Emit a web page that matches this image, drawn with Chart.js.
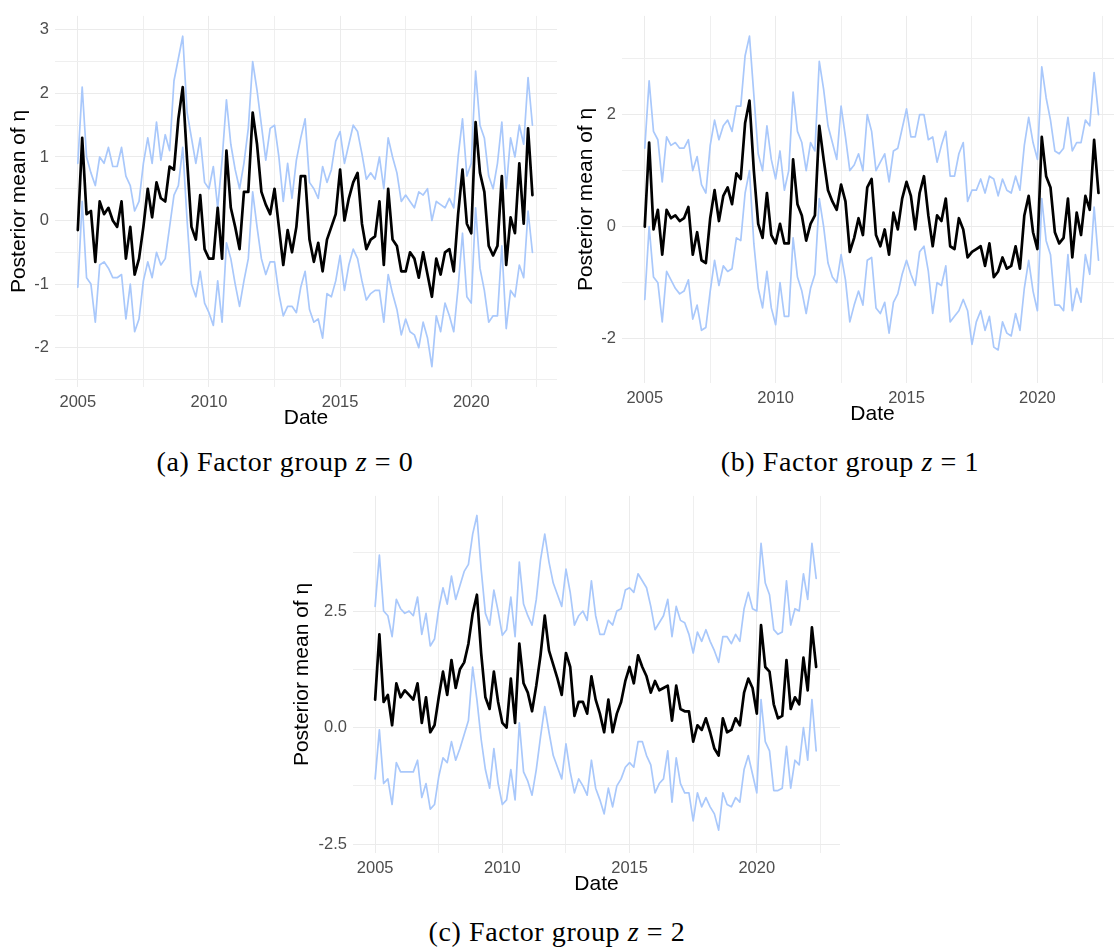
<!DOCTYPE html>
<html>
<head>
<meta charset="utf-8">
<script src="https://cdn.jsdelivr.net/npm/chart.js@4.4.1/dist/chart.umd.min.js"></script>
<style>
  body { margin: 0; background: #fff; }
  #page { position: relative; width: 1114px; height: 949px; overflow: hidden; background: #fff; }
  #page canvas { position: absolute; }
  .cap {
    position: absolute; white-space: nowrap; color: #000;
    font-family: 'Liberation Serif', 'Times New Roman', serif; font-size: 28px;
    letter-spacing: 0.6px; transform: translate(-50%, -50%);
  }
</style>
</head>
<body>
<div id="page">
  <canvas id="panelA" width="557" height="431" style="left:0px;top:0px"></canvas>
  <canvas id="panelB" width="556" height="427" style="left:567px;top:0px"></canvas>
  <canvas id="panelC" width="555" height="417" style="left:285px;top:480px"></canvas>
  <div class="cap" style="left:285px;top:462px">(a) Factor group <i>z</i>&nbsp;=&nbsp;0</div>
  <div class="cap" style="left:850px;top:462px">(b) Factor group <i>z</i>&nbsp;=&nbsp;1</div>
  <div class="cap" style="left:557px;top:932px">(c) Factor group <i>z</i>&nbsp;=&nbsp;2</div>
</div>
<script>
// sampling dates: every two months from Jan 2005
const dates = Array.from({ length: 105 }, (_, i) => 2005 + i / 6);

const xMajor = [2005, 2010, 2015, 2020];
const xMinor = [2007.5, 2012.5, 2017.5, 2022.5];

// --- panel (a), z = 0 ---
const aMean = [
  -0.15, 1.3, 0.1, 0.15, -0.65, 0.3, 0.1, 0.2, 0.0, -0.1,
  0.3, -0.6, -0.1, -0.85, -0.6, -0.1, 0.5, 0.05, 0.6, 0.35,
  0.3, 0.85, 0.8, 1.6, 2.1, 0.95, -0.1, -0.3, 0.4, -0.45,
  -0.6, -0.6, 0.2, -0.6, 1.1, 0.2, -0.1, -0.45, 0.45, 0.45,
  1.7, 1.2, 0.45, 0.25, 0.1, 0.5, -0.1, -0.7, -0.15, -0.5,
  -0.1, 0.7, 0.7, -0.3, -0.65, -0.35, -0.8, -0.3, -0.1, 0.1,
  0.8, 0.0, 0.35, 0.6, 0.75, -0.05, -0.45, -0.3, -0.25, 0.3,
  -0.7, 0.5, -0.3, -0.4, -0.8, -0.8, -0.5, -0.6, -0.9, -0.5,
  -0.85, -1.2, -0.6, -0.85, -0.5, -0.45, -0.8, 0.1, 0.8, -0.05,
  -0.2, 1.55, 0.75, 0.45, -0.4, -0.55, -0.4, 0.7, -0.7, 0.05,
  -0.2, 0.9, -0.05, 1.45, 0.4
];
const aUpper = [
  0.9, 2.1, 1.0, 0.75, 0.55, 1.0, 0.9, 1.15, 0.85, 0.85,
  1.15, 0.7, 0.55, 0.15, 0.3, 0.9, 1.3, 0.9, 1.55, 0.95,
  1.35, 1.1, 2.2, 2.55, 2.9, 1.7, 1.3, 0.9, 1.3, 0.6,
  0.5, 0.85, 0.2, 0.95, 1.9, 1.2, 0.8, 0.5, 0.9, 1.45,
  2.5, 2.05, 1.5, 0.95, 1.45, 1.5, 1.0, 0.3, 0.9, 0.35,
  0.95, 1.3, 1.6, 0.6, 0.5, 0.35, 0.85, 0.6, 0.8, 1.25,
  1.4, 0.9, 1.2, 1.5, 1.4, 1.05, 0.65, 0.75, 0.65, 1.0,
  0.5, 1.3, 1.0, 0.75, 0.3, 0.4, 0.3, 0.2, 0.45, 0.4,
  0.5, 0.0, 0.3, 0.25, 0.2, 0.35, 0.2, 1.0, 1.6, 0.7,
  0.9, 2.35, 1.5, 1.3, 0.7, 0.5, 0.9, 1.55, 0.5, 1.3,
  1.0, 1.5, 1.2, 2.25, 1.5
];
const aLower = [
  -1.05, 0.3, -0.9, -1.0, -1.6, -0.7, -0.65, -0.75, -0.9, -0.9,
  -0.85, -1.55, -1.0, -1.75, -1.55, -0.95, -0.65, -0.9, -0.5, -0.7,
  -0.6, -0.1, 0.4, 0.55, 1.15, 0.0, -1.0, -1.2, -0.8, -1.3,
  -1.45, -1.65, -0.95, -1.6, -0.35, -0.6, -1.0, -1.35, -0.95, -0.6,
  0.45, -0.1, -0.6, -0.85, -0.65, -0.65, -1.15, -1.5, -1.35, -1.35,
  -1.45, -1.05, -0.8, -1.4, -1.6, -1.55, -1.85, -1.15, -1.2, -0.95,
  -0.55, -1.1, -0.7, -0.45, -0.6, -0.95, -1.25, -1.15, -1.1, -1.1,
  -1.6, -0.85, -1.15, -1.4, -1.8, -1.55, -1.75, -1.8, -2.0, -1.6,
  -1.85, -2.3, -1.5, -1.75, -1.3, -1.5, -1.75, -1.05, -0.2, -1.2,
  -1.3, 0.2, -0.75, -1.1, -1.6, -1.5, -1.5, -0.4, -1.7, -1.1,
  -1.2, -0.7, -0.9, 0.15, -0.5
];
const aYMajor = [-2, -1, 0, 1, 2, 3];
const aYMinor = [-2.5, -1.5, -0.5, 0.5, 1.5, 2.5];

// --- panel (b), z = 1 ---
const bMean = [
  0.0, 1.5, -0.05, 0.3, -0.5, 0.3, 0.15, 0.2, 0.1, 0.15,
  0.35, -0.5, -0.1, -0.6, -0.65, 0.15, 0.65, 0.1, 0.55, 0.7,
  0.4, 0.95, 0.85, 1.85, 2.25, 1.0, 0.05, -0.2, 0.6, -0.15,
  -0.3, 0.05, -0.3, -0.3, 1.2, 0.4, 0.2, -0.25, 0.05, 0.2,
  1.8, 1.2, 0.65, 0.45, 0.3, 0.75, 0.45, -0.45, -0.2, 0.15,
  -0.15, 0.7, 0.85, -0.15, -0.35, -0.05, -0.5, 0.25, -0.05, 0.5,
  0.8, 0.55, -0.05, 0.6, 0.9, 0.2, -0.35, 0.2, 0.1, 0.5,
  -0.35, -0.4, 0.15, -0.05, -0.55, -0.45, -0.4, -0.35, -0.7, -0.3,
  -0.9, -0.8, -0.55, -0.75, -0.7, -0.35, -0.75, 0.2, 0.55, -0.1,
  -0.4, 1.6, 0.9, 0.7, -0.1, -0.3, -0.2, 0.5, -0.55, 0.25,
  -0.15, 0.55, 0.3, 1.55, 0.6
];
const bUpper = [
  1.4, 2.6, 1.7, 1.55, 0.8, 1.6, 1.45, 1.5, 1.4, 1.4,
  1.55, 1.0, 1.25, 0.75, 0.6, 1.45, 1.9, 1.55, 1.8, 1.9,
  1.7, 2.15, 2.15, 3.05, 3.4, 2.35, 1.3, 1.0, 1.8, 1.2,
  0.85, 1.35, 0.65, 1.0, 2.4, 1.7, 1.5, 1.0, 1.5, 1.35,
  2.95, 2.45, 1.8, 1.5, 1.2, 2.15, 1.6, 1.0, 1.1, 1.3,
  1.0, 2.0, 1.7, 1.0, 1.15, 1.3, 0.8, 1.35, 1.4, 1.75,
  2.1, 1.6, 1.6, 2.0, 2.0, 1.55, 1.6, 1.15, 1.45, 1.7,
  0.9, 0.9, 1.3, 1.5, 0.45, 0.65, 0.65, 0.85, 0.6, 0.9,
  0.85, 0.55, 0.85, 0.65, 0.6, 0.9, 0.65, 1.45, 1.95, 1.5,
  1.2, 2.85, 2.3, 1.9, 1.35, 1.3, 1.4, 1.95, 1.35, 1.5,
  1.5, 1.9, 1.8, 2.75, 2.0
];
const bLower = [
  -1.3, 0.0, -0.9, -1.0, -1.7, -0.8, -0.95, -1.1, -1.2, -1.15,
  -0.95, -1.65, -1.4, -1.85, -1.8, -1.15, -0.6, -1.05, -0.7, -0.8,
  -0.75, -0.2, -0.25, 0.6, 1.0, -0.3, -1.1, -1.45, -0.8, -1.45,
  -1.75, -1.0, -1.6, -1.6, -0.2, -0.9, -1.15, -1.55, -1.1, -0.85,
  0.5, 0.0, -0.65, -0.9, -1.0, -0.5, -0.95, -1.7, -1.4, -1.15,
  -1.4, -0.6, -0.55, -1.45, -1.55, -1.35, -1.9, -1.35, -1.2, -0.85,
  -0.6, -0.85, -1.05, -0.45, -0.35, -0.8, -1.55, -1.0, -1.05, -0.7,
  -1.7, -1.6, -1.5, -1.3, -1.5, -2.1, -1.7, -1.5, -1.85, -1.6,
  -2.15, -2.2, -1.7, -1.9, -1.95, -1.55, -1.85, -1.1, -0.6, -1.15,
  -1.5, 0.5, -0.25, -0.5, -1.4, -1.4, -1.5, -0.5, -1.5, -1.1,
  -1.35, -0.5, -0.85, 0.35, -0.6
];
const bYMajor = [-2, 0, 2];
const bYMinor = [-1, 1, 3];

// --- panel (c), z = 2 ---
const cMean = [
  0.6, 2.0, 0.55, 0.7, 0.05, 0.95, 0.65, 0.8, 0.7, 0.6,
  0.95, 0.1, 0.65, -0.1, 0.05, 0.65, 1.2, 0.7, 1.45, 0.85,
  1.25, 1.4, 1.8, 2.45, 2.85, 1.6, 0.65, 0.4, 1.2, 0.55,
  0.1, 0.0, 1.05, 0.1, 1.8, 0.95, 0.75, 0.35, 0.9, 1.55,
  2.4, 1.65, 1.35, 1.05, 0.7, 1.6, 1.3, 0.25, 0.55, 0.55,
  0.3, 1.1, 0.6, 0.3, -0.1, 0.6, -0.1, 0.3, 0.55, 1.0,
  1.3, 0.95, 1.55, 1.3, 1.1, 0.75, 1.0, 0.8, 0.85, 0.9,
  0.15, 0.9, 0.4, 0.35, 0.35, -0.3, 0.05, -0.05, 0.2, -0.1,
  -0.45, -0.6, 0.2, -0.1, -0.05, 0.2, 0.05, 0.75, 1.05, 0.85,
  0.3, 2.2, 1.3, 1.2, 0.5, 0.2, 0.25, 1.45, 0.4, 0.65,
  0.5, 1.5, 0.8, 2.15, 1.3
];
const cUpper = [
  2.6, 3.7, 2.5, 2.4, 1.95, 2.75, 2.55, 2.45, 2.5, 2.4,
  2.8, 2.0, 2.45, 1.75, 1.9, 2.55, 3.0, 2.65, 3.25, 2.75,
  3.05, 3.35, 3.5, 4.15, 4.55, 3.4, 2.45, 2.2, 2.95, 2.5,
  1.98, 2.1, 2.8, 1.95, 3.55, 2.65, 2.4, 2.2, 2.75, 3.6,
  4.15, 3.55, 3.1, 2.85, 2.6, 3.4, 2.9, 2.2, 2.4, 2.5,
  2.3, 3.15, 2.4, 2.0, 2.0, 2.3, 2.2, 2.5, 2.55, 2.95,
  3.0, 2.9, 3.3, 3.15, 3.0, 2.6, 2.1, 2.25, 2.4, 2.75,
  1.95, 2.6, 2.3, 2.25, 2.0, 1.6, 2.05, 1.85, 2.1, 1.85,
  1.65, 1.4, 1.95, 1.95, 1.8, 2.0, 1.85, 2.55, 2.9, 2.55,
  2.5, 3.95, 3.1, 2.85, 2.1, 2.0, 2.05, 3.15, 2.2, 2.55,
  2.5, 3.3, 2.75, 3.95, 3.2
];
const cLower = [
  -1.1, -0.05, -1.2, -1.1, -1.65, -0.75, -0.95, -0.95, -0.95, -0.95,
  -0.7, -1.5, -1.2, -1.75, -1.65, -1.05, -0.65, -0.75, -0.3, -0.7,
  -0.45, -0.15, 0.15, 1.3, 0.6, -0.25, -0.9, -1.3, -0.45, -1.2,
  -1.65, -1.55, -0.9, -1.55, 0.1, -0.95, -1.15, -1.45, -0.9, -0.2,
  0.45, -0.1, -0.6, -0.85, -1.1, -0.35, -0.95, -1.4, -1.1, -1.25,
  -1.45, -0.7, -1.3, -1.55, -1.85, -1.3, -1.7, -1.25, -1.1, -0.85,
  -0.75, -0.85, -0.3, -0.3, -0.6, -0.8, -1.4, -1.2, -1.1, -0.5,
  -1.6, -0.65, -1.2, -1.4, -1.4, -2.0, -1.4, -1.7, -1.5, -1.7,
  -1.85, -2.2, -1.4, -1.65, -1.7, -1.5, -1.6, -0.9, -0.6, -1.0,
  -1.4, 0.6, -0.3, -0.5, -1.35, -1.35, -1.3, -0.4, -1.3, -0.7,
  -0.8, 0.0, -0.7, 0.6, -0.5
];
const cYMajor = [-2.5, 0, 2.5];
const cYMinor = [-1.25, 1.25, 3.75];

const BLUE = '#a9c8fb';
const GRID = '#ebebeb';
const TICK = '#4d4d4d';
const SANS = "'Liberation Sans', Arial, Helvetica, sans-serif";
const tickFont = { family: SANS, size: 16.5 };
const titleFont = { family: SANS, size: 21 };

const inList = (list, v) => list.some(m => Math.abs(m - v) < 1e-6);
const toPts = arr => arr.map((v, i) => ({ x: dates[i], y: v }));

function drawPanel(id, p) {
  const yTicks = [...p.yMajor, ...p.yMinor].sort((a, b) => a - b);
  const xTicks = [...xMajor, ...xMinor].sort((a, b) => a - b);
  new Chart(document.getElementById(id), {
    type: 'line',
    data: {
      datasets: [
        { data: toPts(p.mean), borderColor: '#000', borderWidth: 2.7, order: 0 },
        { data: toPts(p.upper), borderColor: BLUE, borderWidth: 1.7, order: 1 },
        { data: toPts(p.lower), borderColor: BLUE, borderWidth: 1.7, order: 1 }
      ]
    },
    options: {
      responsive: false,
      animation: false,
      events: [],
      layout: { padding: { top: p.padTop, left: 0, right: 0, bottom: 0 } },
      elements: {
        point: { radius: 0 },
        line: { tension: 0, fill: false, borderJoinStyle: 'round', borderCapStyle: 'round' }
      },
      plugins: { legend: { display: false }, tooltip: { enabled: false } },
      scales: {
        x: {
          type: 'linear',
          min: 2004.13,
          max: 2023.27,
          afterBuildTicks: s => { s.ticks = xTicks.map(v => ({ value: v })); },
          afterFit: s => { s.height = 44; },
          ticks: {
            color: TICK, font: tickFont, padding: 6, maxRotation: 0, autoSkip: false,
            callback: v => inList(xMajor, v) ? String(v) : ''
          },
          grid: {
            drawTicks: false,
            lineWidth: 1,
            color: c => inList(xMajor, c.tick.value) ? GRID : '#efefef'
          },
          border: { display: false },
          title: { display: true, text: 'Date', color: '#000', font: titleFont, padding: 0 }
        },
        y: {
          min: p.yMin,
          max: p.yMax,
          afterBuildTicks: s => { s.ticks = yTicks.map(v => ({ value: v })); },
          afterFit: s => { s.width = p.axisWidth; },
          ticks: {
            color: TICK, font: tickFont, padding: 6, autoSkip: false,
            callback: v => inList(p.yMajor, v) ? p.fmt(v) : ''
          },
          grid: {
            drawTicks: false,
            lineWidth: 1,
            color: c => inList(p.yMajor, c.tick.value) ? GRID : '#efefef'
          },
          border: { display: false },
          title: {
            display: true, text: 'Posterior mean of η', color: '#000', font: titleFont,
            padding: { top: p.titlePad, bottom: 0 }
          }
        }
      }
    }
  });
}

drawPanel('panelA', {
  mean: aMean, upper: aUpper, lower: aLower,
  yMin: -2.62, yMax: 3.22, yMajor: aYMajor, yMinor: aYMinor,
  fmt: v => String(v), axisWidth: 55, titlePad: 7, padTop: 11
});
drawPanel('panelB', {
  mean: bMean, upper: bUpper, lower: bLower,
  yMin: -2.79, yMax: 3.76, yMajor: bYMajor, yMinor: bYMinor,
  fmt: v => String(v), axisWidth: 55, titlePad: 7, padTop: 10
});
drawPanel('panelC', {
  mean: cMean, upper: cUpper, lower: cLower,
  yMin: -2.69, yMax: 4.97, yMajor: cYMajor, yMinor: cYMinor,
  fmt: v => v.toFixed(1), axisWidth: 68, titlePad: 5, padTop: 10
});
</script>
</body>
</html>
